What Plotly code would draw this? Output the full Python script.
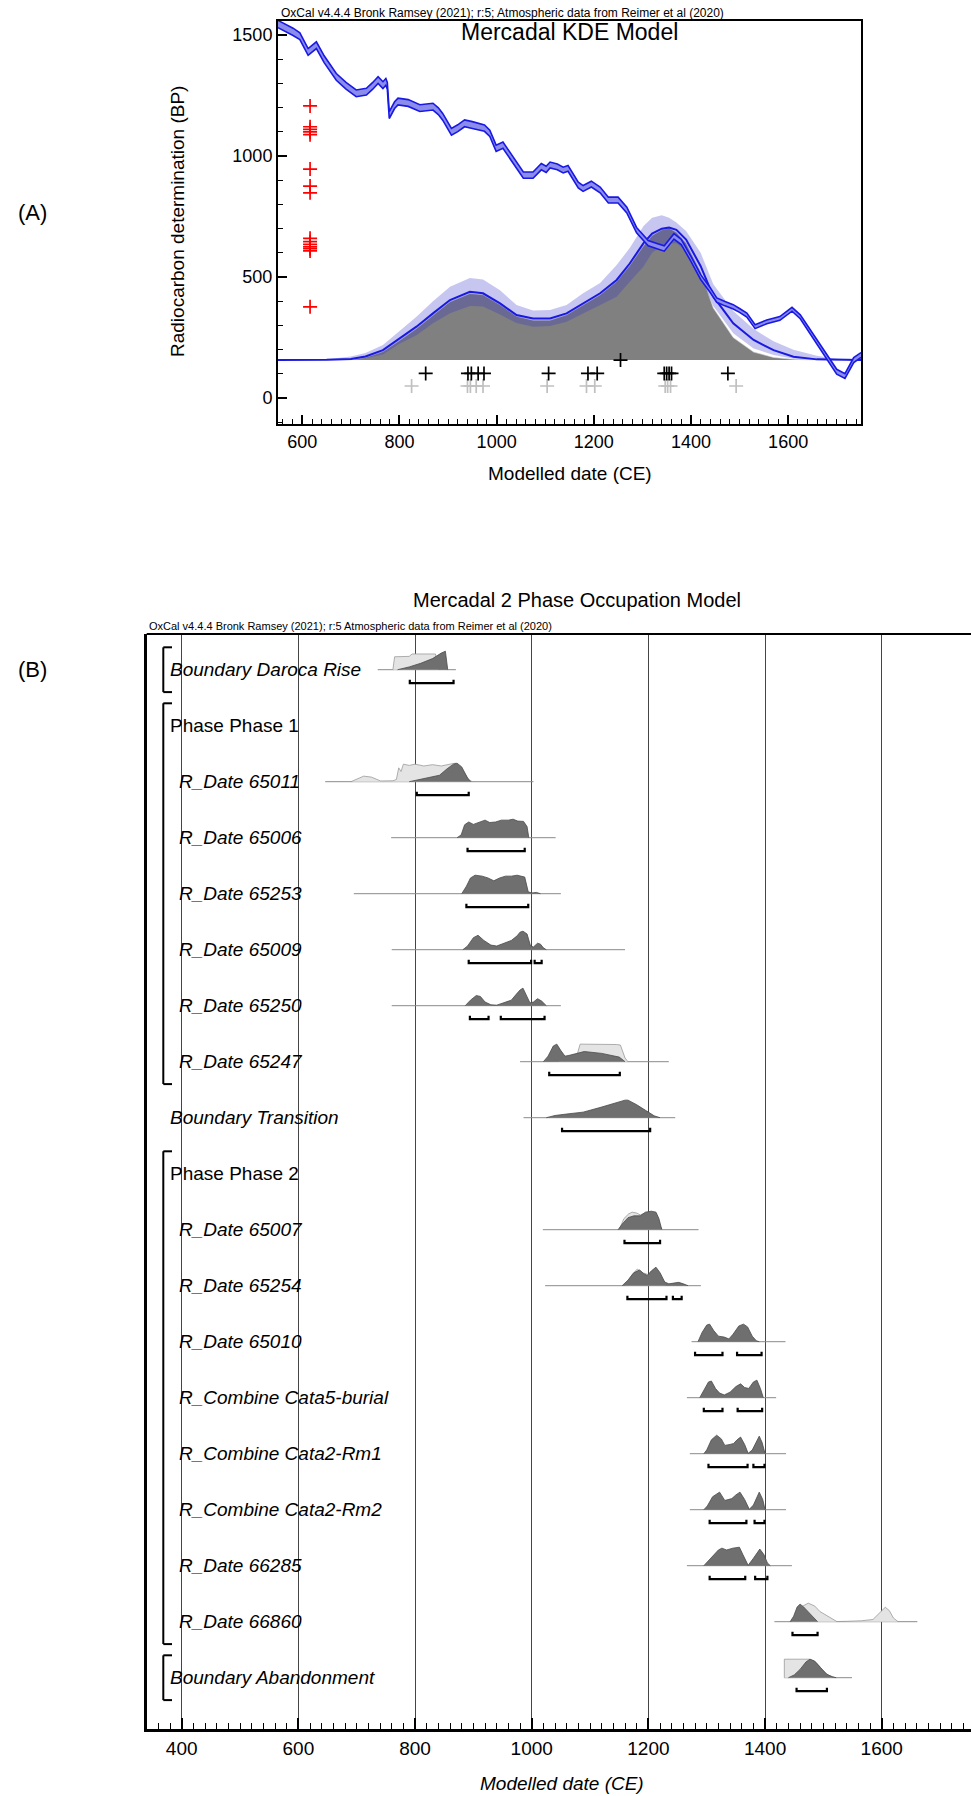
import plotly.graph_objects as go

FIG_W, FIG_H = 971, 1796
SANS = "Liberation Sans, Arial, sans-serif"


def px_x(p):
    return p / FIG_W


def px_y(p):
    return 1 - p / FIG_H


# ---------------- Panel A data ----------------
cal_year = [550, 565, 581, 595, 612, 629, 645, 670, 690, 711, 732, 745, 756, 766, 772, 775, 779, 790, 797, 818,
            835, 842, 869, 880, 889, 907, 920, 934, 950, 965, 975, 986, 999, 1013, 1025, 1034, 1055, 1075, 1092, 1102,
            1110, 1125, 1137, 1147, 1168, 1178, 1195, 1213, 1230, 1250, 1268, 1288, 1312, 1330, 1345, 1365, 1380, 1400, 1420, 1440,
            1453, 1470, 1487, 1500, 1515, 1532, 1556, 1583, 1608, 1625, 1652, 1680, 1700, 1717, 1735, 1750]
cal_bp = [1545, 1530, 1513, 1495, 1430, 1458, 1400, 1327, 1290, 1259, 1266, 1290, 1314, 1293, 1306, 1290, 1169, 1210, 1225, 1219,
          1204, 1198, 1204, 1185, 1162, 1100, 1115, 1135, 1128, 1121, 1115, 1094, 1032, 1045, 1010, 983, 921, 921, 956, 945,
          963, 955, 942, 949, 880, 866, 884, 860, 818, 818, 777, 694, 640, 628, 618, 668, 645, 575, 500, 445,
          405, 390, 377, 362, 343, 295, 315, 329, 367, 336, 253, 171, 109, 91, 157, 178]
cal_err = [15, 15, 15, 14, 14, 14, 14, 14, 14, 14, 14, 14, 14, 14, 14, 14, 14, 14, 14, 14,
           14, 14, 14, 14, 14, 14, 14, 14, 14, 14, 13, 13, 13, 13, 13, 13, 13, 13, 13, 13,
           12, 12, 12, 12, 12, 12, 12, 12, 12, 12, 12, 11, 11, 11, 11, 11, 11, 10, 10, 10,
           9, 9, 9, 8, 8, 8, 8, 8, 8, 8, 9, 9, 10, 10, 10, 10]

kde_year = [550, 650, 700, 730, 766, 800, 835, 869, 904, 945, 972, 1007, 1041, 1075, 1110, 1144, 1178, 1213,
            1247, 1274, 1302, 1320, 1340, 1355, 1370, 1390, 1420, 1446, 1487, 1529, 1570, 1611, 1659, 1700, 1750]
kde_mean = [157, 158, 162, 172, 198, 245, 295, 350, 405, 439, 433, 391, 343, 329, 329, 350, 391, 433,
            488, 556, 639, 680, 700, 705, 695, 655, 545, 420, 309, 240, 198, 171, 160, 158, 157]
kde_upper = [157, 160, 172, 186, 219, 275, 336, 400, 460, 496, 490, 445, 385, 362, 364, 385, 433, 475,
             550, 620, 710, 745, 755, 745, 725, 690, 600, 470, 360, 285, 235, 200, 175, 163, 158]
kde_lower = [157, 157, 158, 165, 180, 225, 260, 309, 350, 380, 378, 345, 310, 295, 298, 315, 350, 384,
             419, 481, 543, 600, 630, 640, 640, 610, 500, 380, 268, 205, 178, 163, 158, 157, 157]
kde_dist = [157, 157, 158, 168, 192, 238, 287, 342, 398, 432, 427, 386, 338, 322, 322, 344, 385, 427,
            482, 548, 628, 672, 695, 702, 685, 640, 520, 372, 250, 190, 168, 160, 157, 157, 157]
kde_base = 157

c14_plot_year = 616
c14_bp = [1207, 1121, 1110, 1100, 1088, 946, 876, 848, 660, 646, 635, 625, 617, 608, 377]
median_year = [854, 941, 948, 962, 974, 1107, 1188, 1207, 1345, 1350, 1355, 1360, 1476]
median_bp = 102
sample_year = [825, 940, 946, 958, 972, 1104, 1185, 1202, 1347, 1352, 1358, 1493]
sample_bp = 50
single_year = [1255]
single_bp = [157]

# ---------------- Panel B data ----------------
row_labels = ["Boundary Daroca Rise", "Phase Phase 1", "R_Date 65011", "R_Date 65006", "R_Date 65253",
              "R_Date 65009", "R_Date 65250", "R_Date 65247", "Boundary Transition", "Phase Phase 2",
              "R_Date 65007", "R_Date 65254", "R_Date 65010", "R_Combine Cata5-burial",
              "R_Combine Cata2-Rm1", "R_Combine Cata2-Rm2", "R_Date 66285", "R_Date 66860",
              "Boundary Abandonment"]

# (year, relative height) outlines; base = extent of thin baseline; ranges = 95.4% brackets
daroca_base = [736, 870]
daroca_prior = [(762, 0), (765, 0.7), (790, 0.72), (795, 0.85), (835, 0.85), (840, 0)]
daroca_post = [(770, 0), (790, 0.15), (810, 0.35), (830, 0.6), (845, 0.9), (852, 1.0), (856, 0)]
daroca_ranges = [(791, 866)]

d65011_base = [646, 1003]
d65011_prior = [(690, 0), (700, 0.12), (712, 0.3), (725, 0.25), (741, 0.04), (762, 0.05), (768, 0.12), (772, 0.75),
                (776, 0.55), (780, 0.95), (790, 0.88), (800, 0.95), (815, 0.85), (830, 0.92), (845, 0.85), (860, 0.95),
                (869, 1.0), (880, 0.7), (893, 0.05), (900, 0)]
d65011_post = [(790, 0), (805, 0.1), (825, 0.2), (842, 0.35), (855, 0.7), (866, 0.95), (872, 1.0), (880, 0.8),
               (890, 0.2), (896, 0)]
d65011_ranges = [(803, 892)]

d65006_base = [759, 1041]
d65006_prior = []
d65006_post = [(872, 0), (879, 0.15), (885, 0.7), (892, 0.85), (900, 0.72), (910, 0.85), (920, 0.95), (928, 0.82),
               (938, 0.85), (948, 0.95), (960, 0.95), (968, 1.0), (976, 0.9), (986, 0.88), (992, 0.6), (995, 0)]
d65006_ranges = [(890, 988)]

d65253_base = [695, 1050]
d65253_prior = []
d65253_post = [(880, 0), (888, 0.4), (895, 0.85), (903, 1.0), (915, 0.95), (925, 0.85), (935, 0.7), (945, 0.85),
               (955, 0.95), (965, 0.95), (975, 1.0), (988, 0.9), (994, 0.1), (1000, 0.04), (1008, 0.07), (1015, 0)]
d65253_ranges = [(888, 994)]

d65009_base = [760, 1160]
d65009_prior = []
d65009_post = [(882, 0), (890, 0.2), (900, 0.65), (908, 0.78), (918, 0.5), (930, 0.25), (940, 0.2), (955, 0.4),
               (965, 0.5), (975, 0.75), (980, 0.95), (985, 1.0), (992, 0.85), (998, 0.2), (1003, 0.15), (1010, 0.35),
               (1015, 0.3), (1020, 0.1), (1025, 0)]
d65009_ranges = [(892, 999), (1005, 1017)]

d65250_base = [760, 1050]
d65250_prior = []
d65250_post = [(886, 0), (895, 0.3), (905, 0.55), (912, 0.5), (920, 0.2), (930, 0.05), (940, 0.03), (955, 0.2),
               (965, 0.3), (973, 0.6), (980, 0.85), (985, 0.95), (990, 0.6), (997, 0.15), (1003, 0.2), (1010, 0.38),
               (1017, 0.25), (1025, 0)]
d65250_ranges = [(894, 926), (947, 1022)]

d65247_base = [980, 1235]
d65247_prior = [(1045, 0), (1054, 0.2), (1065, 0.3), (1078, 0.4), (1083, 0.95), (1100, 0.95), (1115, 0.92),
                (1130, 0.95), (1145, 0.93), (1152, 0.9), (1160, 0.2), (1165, 0)]
d65247_post = [(1020, 0), (1028, 0.3), (1037, 0.85), (1043, 0.95), (1050, 0.6), (1057, 0.3), (1065, 0.35),
               (1077, 0.45), (1090, 0.55), (1105, 0.5), (1120, 0.45), (1135, 0.35), (1150, 0.25), (1160, 0)]
d65247_ranges = [(1030, 1151)]

trans_base = [986, 1246]
trans_prior = []
trans_post = [(1025, 0), (1040, 0.12), (1060, 0.2), (1088, 0.3), (1117, 0.55), (1140, 0.75), (1160, 0.95),
              (1165, 0.95), (1180, 0.7), (1195, 0.4), (1210, 0.1), (1220, 0)]
trans_ranges = [(1052, 1203)]

d65007_base = [1019, 1286]
d65007_prior = [(1150, 0), (1158, 0.6), (1166, 0.85), (1172, 0.95), (1180, 0.9), (1186, 0.8), (1195, 0.9),
                (1205, 0.95), (1213, 0.9), (1220, 0.2), (1224, 0)]
d65007_post = [(1148, 0), (1155, 0.3), (1165, 0.65), (1175, 0.75), (1186, 0.75), (1195, 0.95), (1205, 1.0),
               (1213, 0.95), (1218, 0.6), (1223, 0)]
d65007_ranges = [(1159, 1220)]

d65254_base = [1023, 1290]
d65254_prior = [(1160, 0), (1172, 0.6), (1181, 0.9), (1190, 0.7), (1200, 0.6), (1212, 0.95), (1222, 0.4),
                (1230, 0)]
d65254_post = [(1155, 0), (1165, 0.3), (1175, 0.7), (1185, 0.85), (1192, 0.65), (1198, 0.55), (1205, 0.8),
               (1213, 1.0), (1220, 0.7), (1228, 0.2), (1235, 0.1), (1245, 0.15), (1252, 0.18), (1260, 0.1),
               (1268, 0)]
d65254_ranges = [(1164, 1231), (1242, 1257)]

d65010_base = [1274, 1435]
d65010_prior = []
d65010_post = [(1285, 0), (1292, 0.5), (1300, 0.9), (1305, 0.95), (1312, 0.6), (1320, 0.3), (1330, 0.25),
               (1338, 0.15), (1345, 0.4), (1355, 0.85), (1363, 0.95), (1370, 0.8), (1378, 0.3), (1385, 0.05),
               (1390, 0)]
d65010_ranges = [(1280, 1327), (1352, 1394)]

c5_base = [1266, 1419]
c5_prior = []
c5_post = [(1288, 0), (1295, 0.4), (1303, 0.85), (1308, 0.9), (1315, 0.5), (1322, 0.25), (1330, 0.15),
           (1340, 0.3), (1350, 0.6), (1358, 0.75), (1365, 0.55), (1372, 0.5), (1380, 0.85), (1386, 0.95),
           (1392, 0.5), (1397, 0)]
c5_ranges = [(1295, 1327), (1353, 1395)]

rm1_base = [1271, 1436]
rm1_prior = []
rm1_post = [(1295, 0), (1300, 0.2), (1308, 0.75), (1317, 1.0), (1325, 0.8), (1331, 0.45), (1340, 0.5),
            (1346, 0.55), (1352, 0.75), (1358, 0.9), (1365, 0.5), (1371, 0.02), (1378, 0.2), (1385, 0.6),
            (1390, 0.95), (1395, 0.6), (1400, 0)]
rm1_ranges = [(1303, 1370), (1380, 1399)]

rm2_base = [1271, 1436]
rm2_prior = []
rm2_post = [(1295, 0), (1301, 0.2), (1310, 0.7), (1318, 0.9), (1322, 0.95), (1331, 0.5), (1343, 0.6),
            (1350, 0.8), (1357, 0.95), (1365, 0.55), (1373, 0.02), (1380, 0.25), (1390, 0.95), (1396, 0.55),
            (1400, 0)]
rm2_ranges = [(1305, 1368), (1382, 1399)]

d66285_base = [1266, 1446]
d66285_prior = []
d66285_post = [(1295, 0), (1301, 0.2), (1314, 0.65), (1320, 0.85), (1326, 0.95), (1334, 0.85), (1345, 0.95),
               (1356, 1.0), (1362, 0.6), (1371, 0.02), (1380, 0.4), (1391, 0.9), (1398, 0.6), (1404, 0.15),
               (1409, 0)]
d66285_ranges = [(1305, 1366), (1383, 1404)]

d66860_base = [1416, 1661]
d66860_prior = [(1445, 0), (1451, 0.3), (1462, 0.8), (1474, 1.0), (1485, 0.85), (1494, 0.55), (1505, 0.35),
                (1515, 0.15), (1523, 0.01), (1540, 0.02), (1565, 0.05), (1585, 0.12), (1597, 0.5), (1606, 0.78),
                (1613, 0.6), (1620, 0.2), (1628, 0)]
d66860_post = [(1443, 0), (1449, 0.3), (1455, 0.8), (1460, 0.95), (1466, 0.8), (1475, 0.5), (1483, 0.2),
               (1490, 0)]
d66860_ranges = [(1447, 1490)]

aband_base = [1433, 1549]
aband_prior = [(1433, 0), (1433, 1.0), (1477, 1.0), (1488, 0.8), (1498, 0.45), (1508, 0.15), (1520, 0)]
aband_post = [(1440, 0), (1450, 0.15), (1460, 0.45), (1470, 0.85), (1477, 1.0), (1485, 0.9), (1495, 0.55),
              (1505, 0.2), (1515, 0.05), (1522, 0)]
aband_ranges = [(1454, 1506)]

row_data = [
    (daroca_base, daroca_prior, daroca_post, daroca_ranges),
    None,
    (d65011_base, d65011_prior, d65011_post, d65011_ranges),
    (d65006_base, d65006_prior, d65006_post, d65006_ranges),
    (d65253_base, d65253_prior, d65253_post, d65253_ranges),
    (d65009_base, d65009_prior, d65009_post, d65009_ranges),
    (d65250_base, d65250_prior, d65250_post, d65250_ranges),
    (d65247_base, d65247_prior, d65247_post, d65247_ranges),
    (trans_base, trans_prior, trans_post, trans_ranges),
    None,
    (d65007_base, d65007_prior, d65007_post, d65007_ranges),
    (d65254_base, d65254_prior, d65254_post, d65254_ranges),
    (d65010_base, d65010_prior, d65010_post, d65010_ranges),
    (c5_base, c5_prior, c5_post, c5_ranges),
    (rm1_base, rm1_prior, rm1_post, rm1_ranges),
    (rm2_base, rm2_prior, rm2_post, rm2_ranges),
    (d66285_base, d66285_prior, d66285_post, d66285_ranges),
    (d66860_base, d66860_prior, d66860_post, d66860_ranges),
    (aband_base, aband_prior, aband_post, aband_ranges),
]
# structural brackets on the left (first row, last row)
group_brackets = [(0, 0), (1, 7), (9, 17), (18, 18)]

# ---------------- layout geometry (pixels) ----------------
A_L, A_R, A_T, A_B = 278, 861, 20.7, 424
B_L, B_T, B_B = 146.7, 634, 1729
ROW0, ROWH = 669.7, 56.0
PEAK = 18.5 / ROWH        # distribution peak height in row units
BR_OFF = 13.5 / ROWH      # bracket offset below baseline
BR_TICK = 3.5 / ROWH

fig = go.Figure()

# ---- Panel A traces ----
fig.add_trace(go.Scatter(x=kde_year, y=[kde_base] * len(kde_year), mode="lines", line=dict(width=0),
                         xaxis="x", yaxis="y", hoverinfo="skip", showlegend=False))
fig.add_trace(go.Scatter(x=kde_year, y=kde_dist, mode="lines", fill="tonexty", fillcolor="#808080",
                         line=dict(width=0.6, color="#d8d8d8"), xaxis="x", yaxis="y", showlegend=False))
fig.add_trace(go.Scatter(x=kde_year, y=kde_lower, mode="lines", line=dict(width=0),
                         xaxis="x", yaxis="y", showlegend=False))
fig.add_trace(go.Scatter(x=kde_year, y=kde_upper, mode="lines", fill="tonexty",
                         fillcolor="rgba(45,45,205,0.27)", line=dict(width=0),
                         xaxis="x", yaxis="y", showlegend=False))
fig.add_trace(go.Scatter(x=kde_year, y=kde_mean, mode="lines", line=dict(width=2, color="rgb(25,25,225)"),
                         xaxis="x", yaxis="y", showlegend=False))
cal_lo = [b - e for b, e in zip(cal_bp, cal_err)]
cal_hi = [b + e for b, e in zip(cal_bp, cal_err)]
fig.add_trace(go.Scatter(x=cal_year, y=cal_lo, mode="lines", line=dict(width=1.6, color="rgb(25,25,230)"),
                         xaxis="x", yaxis="y", showlegend=False))
fig.add_trace(go.Scatter(x=cal_year, y=cal_hi, mode="lines", fill="tonexty", fillcolor="rgb(140,140,235)",
                         line=dict(width=1.6, color="rgb(25,25,230)"), xaxis="x", yaxis="y", showlegend=False))
fig.add_trace(go.Scatter(x=[c14_plot_year] * len(c14_bp), y=c14_bp, mode="markers",
                         marker=dict(symbol="cross-thin", size=10, line=dict(width=1.7, color="red")),
                         xaxis="x", yaxis="y", showlegend=False))
fig.add_trace(go.Scatter(x=sample_year, y=[sample_bp] * len(sample_year), mode="markers",
                         marker=dict(symbol="cross-thin", size=10, line=dict(width=1.7, color="#c0c0c0")),
                         xaxis="x", yaxis="y", showlegend=False))
fig.add_trace(go.Scatter(x=median_year + single_year, y=[median_bp] * len(median_year) + single_bp,
                         mode="markers",
                         marker=dict(symbol="cross-thin", size=10, line=dict(width=1.7, color="black")),
                         xaxis="x", yaxis="y", showlegend=False))

# ---- Panel B traces ----
base_x, base_y = [], []
br_x, br_y = [], []
for i, d in enumerate(row_data):
    if d is None:
        continue
    base, prior, post, ranges = d
    base_x += [base[0], base[1], None]
    base_y += [i, i, None]
    for a, b in ranges:
        yb = i + BR_OFF
        br_x += [a, a, b, b, None]
        br_y += [yb - BR_TICK, yb, yb, yb - BR_TICK, None]

fig.add_trace(go.Scatter(x=base_x, y=base_y, mode="lines", line=dict(width=1, color="#8a8a8a"),
                         xaxis="x2", yaxis="y2", showlegend=False, hoverinfo="skip"))
for i, d in enumerate(row_data):
    if d is None:
        continue
    base, prior, post, ranges = d
    if prior:
        fig.add_trace(go.Scatter(x=[p[0] for p in prior], y=[i - p[1] * PEAK for p in prior],
                                 mode="lines", fill="toself", fillcolor="#e4e4e4",
                                 line=dict(width=0.8, color="#9a9a9a"), xaxis="x2", yaxis="y2",
                                 showlegend=False))
    fig.add_trace(go.Scatter(x=[p[0] for p in post], y=[i - p[1] * PEAK for p in post],
                             mode="lines", fill="toself", fillcolor="#6f6f6f",
                             line=dict(width=0.8, color="#4a4a4a"), xaxis="x2", yaxis="y2",
                             showlegend=False))
fig.add_trace(go.Scatter(x=br_x, y=br_y, mode="lines", line=dict(width=2.2, color="black"),
                         xaxis="x2", yaxis="y2", showlegend=False, hoverinfo="skip"))

# ---- Axes ----
tick_common = dict(ticks="inside", tickcolor="black", showgrid=False, zeroline=False,
                   showline=True, linecolor="black")
fig.update_layout(
    width=FIG_W, height=FIG_H, autosize=False,
    margin=dict(l=0, r=0, t=0, b=0),
    paper_bgcolor="white", plot_bgcolor="rgba(0,0,0,0)",
    xaxis=dict(domain=[px_x(A_L), px_x(A_R)], range=[550, 1750], anchor="y", mirror=True, linewidth=2,
               dtick=200, tick0=0, ticklen=9, tickwidth=1.5,
               minor=dict(ticks="inside", dtick=20, tick0=0, ticklen=5, tickwidth=1, tickcolor="black"),
               tickfont=dict(family=SANS, size=18, color="black"), **tick_common),
    yaxis=dict(domain=[px_y(A_B), px_y(A_T)], range=[-107, 1559], anchor="x", mirror=True, linewidth=2,
               dtick=500, tick0=0, ticklen=9, tickwidth=1.5,
               minor=dict(ticks="inside", dtick=100, tick0=0, ticklen=5, tickwidth=1, tickcolor="black"),
               tickfont=dict(family=SANS, size=18, color="black"), **tick_common),
    xaxis2=dict(domain=[px_x(B_L), 1.0], range=[340, 1753], anchor="y2", linewidth=2.5,
                dtick=200, tick0=0, ticklen=11, tickwidth=1.5, ticks="inside", tickcolor="black",
                showline=True, linecolor="black", zeroline=False,
                showgrid=True, gridcolor="#454545", gridwidth=1,
                minor=dict(ticks="inside", dtick=20, tick0=0, ticklen=6, tickwidth=1, tickcolor="black",
                           showgrid=False),
                tickfont=dict(family=SANS, size=19, color="black")),
    yaxis2=dict(domain=[px_y(B_B), px_y(B_T)],
                range=[(B_B - ROW0) / ROWH, (B_T - ROW0) / ROWH], anchor="x2",
                showline=True, linecolor="black", linewidth=2.5, showticklabels=False, ticks="",
                showgrid=False, zeroline=False),
)

shapes = [dict(type="line", xref="paper", yref="paper", x0=px_x(B_L), x1=1.0, y0=px_y(B_T), y1=px_y(B_T),
               line=dict(color="black", width=2))]
BX0, BX1 = px_x(163.3), px_x(172)
for r0, r1 in group_brackets:
    ya, yb = r0 - 0.4, r1 + 0.4
    for seg in [(BX0, ya, BX0, yb), (BX0, ya, BX1, ya), (BX0, yb, BX1, yb)]:
        shapes.append(dict(type="line", xref="paper", yref="y2", x0=seg[0], y0=seg[1], x1=seg[2], y1=seg[3],
                           line=dict(color="black", width=2)))
fig.update_layout(shapes=shapes)


def label(text, xp, yp, size, xanchor="center", angle=0):
    return dict(text=text, x=px_x(xp), y=px_y(yp), xref="paper", yref="paper", showarrow=False,
                xanchor=xanchor, yanchor="middle", textangle=angle,
                font=dict(family=SANS, size=size, color="black"))


ann = [
    label("(A)", 32, 212, 22),
    label("(B)", 32, 669, 22),
    label("OxCal v4.4.4 Bronk Ramsey (2021); r:5; Atmospheric data from Reimer et al (2020)", 279, 13, 12,
          xanchor="left"),
    label("Mercadal KDE Model", (A_L + A_R) / 2, 32, 23),
    label("Radiocarbon determination (BP)", 177, 222, 19, angle=-90),
    label("Modelled date (CE)", (A_L + A_R) / 2, 473, 19),
    label("Mercadal 2 Phase Occupation Model", 577, 600, 20),
    label("OxCal v4.4.4 Bronk Ramsey (2021); r:5 Atmospheric data from Reimer et al (2020)", 147, 626, 11,
          xanchor="left"),
    label("<i>Modelled date (CE)</i>", 562, 1783, 19),
]
for i, lab in enumerate(row_labels):
    if lab.startswith("Phase"):
        txt, xp = lab, 168
    elif lab.startswith("Boundary"):
        txt, xp = "<i>" + lab + "</i>", 168
    else:
        txt, xp = "<i>" + lab + "</i>", 177
    ann.append(dict(text=txt, x=px_x(xp), y=i, xref="paper", yref="y2", xanchor="left", yanchor="middle",
                    showarrow=False, font=dict(family=SANS, size=19, color="black")))
fig.update_layout(annotations=ann)

fig.write_html("out.html")
